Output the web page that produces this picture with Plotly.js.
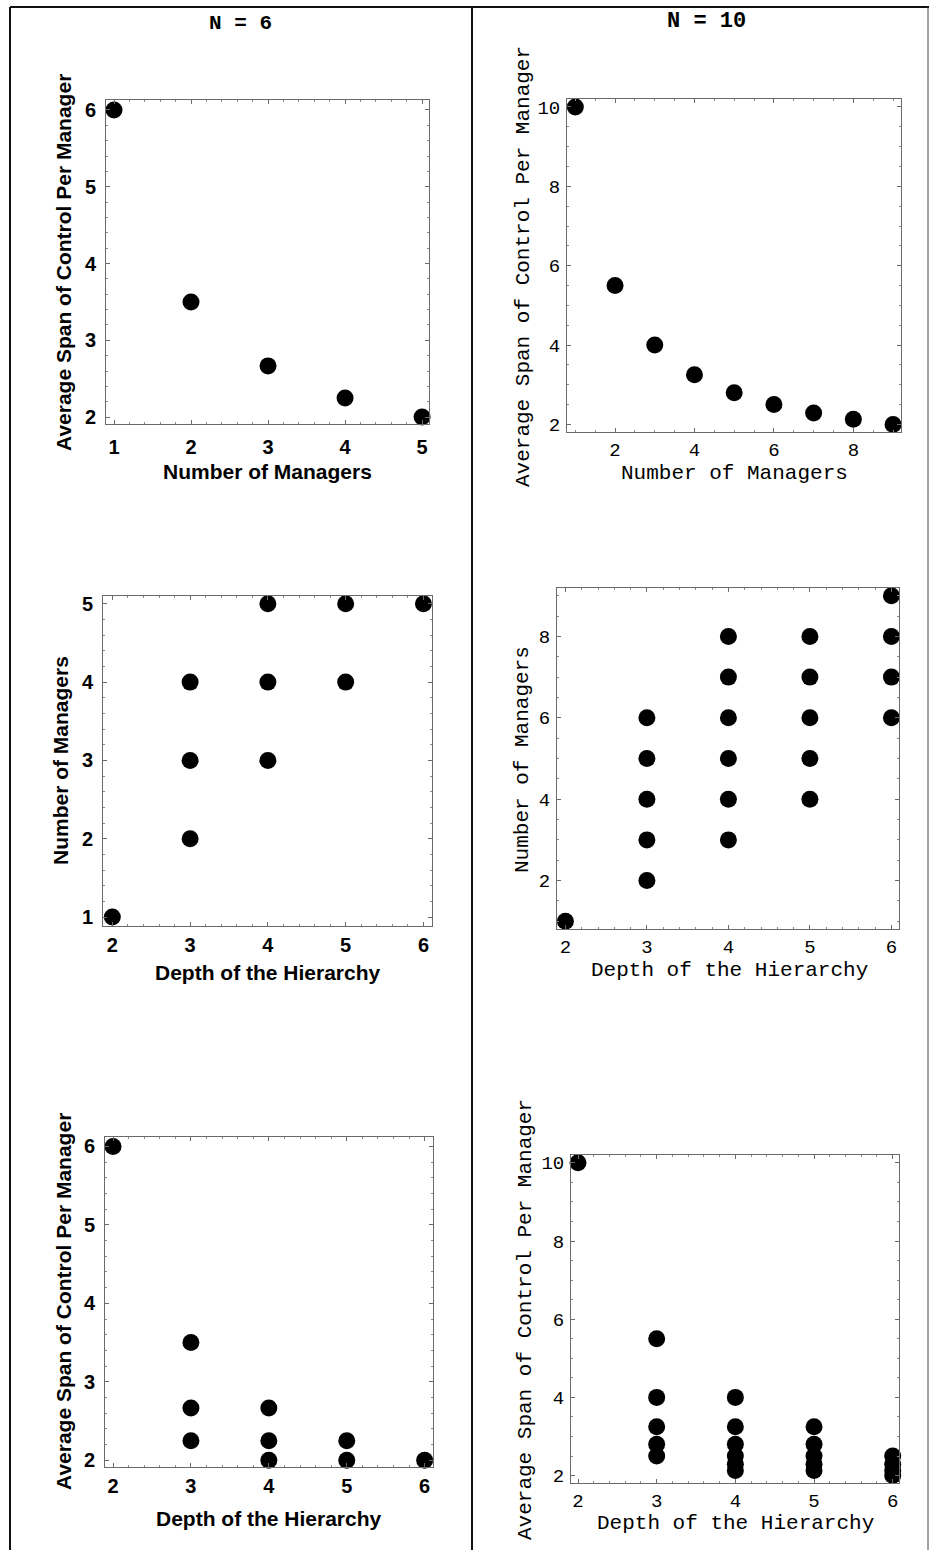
<!DOCTYPE html>
<html>
<head>
<meta charset="utf-8">
<script src="https://cdn.plot.ly/plotly-3.0.1.min.js"></script>
<style>
html,body{margin:0;padding:0;background:#fff;}
#chart{width:931px;height:1550px;}
</style>
</head>
<body>
<div id="chart"></div>
<script>
// ---------- data ----------
const panelTitles = ["N = 6", "N = 10"];

const n6Managers = [1, 2, 3, 4, 5];
const n6SpanByManagers = [6, 3.5, 2.667, 2.25, 2];

const n6Depth = [2, 3, 3, 3, 4, 4, 4, 5, 5, 6];
const n6ManagersByDepth = [1, 2, 3, 4, 3, 4, 5, 4, 5, 5];
const n6SpanByDepth = [6, 3.5, 2.667, 2.25, 2.667, 2.25, 2, 2.25, 2, 2];

const n10Managers = [1, 2, 3, 4, 5, 6, 7, 8, 9];
const n10SpanByManagers = [10, 5.5, 4, 3.25, 2.8, 2.5, 2.29, 2.13, 2];

const n10Depth = [2, 3, 3, 3, 3, 3, 4, 4, 4, 4, 4, 4, 5, 5, 5, 5, 5, 6, 6, 6, 6];
const n10ManagersByDepth = [1, 2, 3, 4, 5, 6, 3, 4, 5, 6, 7, 8, 4, 5, 6, 7, 8, 6, 7, 8, 9];
const n10SpanByDepth = [10, 5.5, 4, 3.25, 2.8, 2.5, 4, 3.25, 2.8, 2.5, 2.29, 2.13, 3.25, 2.8, 2.5, 2.29, 2.13, 2.5, 2.29, 2.13, 2];

const labelSpan = "Average Span of Control Per Manager";
const labelManagers = "Number of Managers";
const labelDepth = "Depth of the Hierarchy";

// ---------- layout helpers ----------
const W = 931, H = 1550;
const px = v => v / W;
const py = v => 1 - v / H;

const sansFont = "Liberation Sans, Arial, Helvetica, sans-serif";
const monoFont = "Liberation Mono, Courier New, Courier, monospace";

// panel frames in pixels: [left, right, top, bottom]
const panels = [
  {frame: [106, 429, 100, 424], xr: [0.896, 5.09], yr: [1.91, 6.13], xd: 1, yd: 1, xm: 0.2, ym: 0.2,
   x: n6Managers, y: n6SpanByManagers, sans: true, xt: labelManagers, yt: labelSpan,
   xtPos: [267, 472], ytPos: [63, 263], xstand: 5, ystand: 5},
  {frame: [103, 432, 596, 926], xr: [1.88, 6.11], yr: [0.885, 5.1], xd: 1, yd: 1, xm: 0.2, ym: 0.2,
   x: n6Depth, y: n6ManagersByDepth, sans: true, xt: labelDepth, yt: labelManagers,
   xtPos: [268, 972], ytPos: [60, 761], xstand: 1, ystand: 5},
  {frame: [105, 433, 1137, 1467], xr: [1.897, 6.107], yr: [1.914, 6.12], xd: 1, yd: 1, xm: 0.2, ym: 0.2,
   x: n6Depth, y: n6SpanByDepth, sans: true, xt: labelDepth, yt: labelSpan,
   xtPos: [269, 1518], ytPos: [63, 1302], xstand: 1, ystand: 5},
  {frame: [567, 901, 99, 432], xr: [0.79, 9.2], yr: [1.81, 10.2], xd: 2, yd: 2, xm: 0.5, ym: 0.5,
   x: n10Managers, y: n10SpanByManagers, sans: false, xt: labelManagers, yt: labelSpan,
   xtPos: [734, 473], ytPos: [523, 267], xstand: 0, ystand: 2},
  {frame: [557, 899, 588, 929], xr: [1.897, 6.093], yr: [0.81, 9.19], xd: 1, yd: 2, xm: 0.2, ym: 0.5,
   x: n10Depth, y: n10ManagersByDepth, sans: false, xt: labelDepth, yt: labelManagers,
   xtPos: [729, 970], ytPos: [523, 760], xstand: 0, ystand: 2},
  {frame: [571, 899, 1155, 1483], xr: [1.911, 6.08], yr: [1.81, 10.2], xd: 1, yd: 2, xm: 0.2, ym: 0.5,
   x: n10Depth, y: n10SpanByDepth, sans: false, xt: labelDepth, yt: labelSpan,
   xtPos: [735, 1523], ytPos: [525, 1320], xstand: 0, ystand: 2}
];

const data = [];
const layout = {
  width: W, height: H,
  margin: {l: 0, r: 0, t: 0, b: 0, pad: 0},
  paper_bgcolor: "#ffffff",
  plot_bgcolor: "#ffffff",
  showlegend: false,
  annotations: [],
  shapes: []
};

panels.forEach((p, i) => {
  const k = i + 1;
  const sfx = k === 1 ? "" : String(k);
  const tickFont = p.sans
    ? {family: sansFont, size: 20, color: "#000", weight: 700}
    : {family: monoFont, size: 19, color: "#000"};
  const titleFont = p.sans
    ? {family: sansFont, size: 21, color: "#000", weight: 700}
    : {family: monoFont, size: 21, color: "#000"};
  data.push({
    type: "scatter", mode: "markers",
    x: p.x, y: p.y,
    xaxis: "x" + sfx, yaxis: "y" + sfx,
    marker: {color: "#000000", size: 17},
    cliponaxis: false, hoverinfo: "skip"
  });
  const common = {
    showgrid: false, zeroline: false,
    showline: true, linecolor: "#6a6a6a", linewidth: 1, mirror: "ticks",
    ticks: "inside", ticklen: 4, tickwidth: 1, tickcolor: "#6a6a6a",
    tickfont: tickFont,
    fixedrange: true
  };
  layout["xaxis" + sfx] = Object.assign({}, common, {
    domain: [px(p.frame[0]), px(p.frame[1])],
    range: p.xr, dtick: p.xd, tick0: 0,
    minor: {dtick: p.xm, ticks: "inside", ticklen: 2, tickcolor: "#8a8a8a", showgrid: false},
    ticklabelstandoff: p.xstand,
    anchor: "y" + sfx
  });
  layout["yaxis" + sfx] = Object.assign({}, common, {
    domain: [py(p.frame[3]), py(p.frame[2])],
    range: p.yr, dtick: p.yd, tick0: 0,
    minor: {dtick: p.ym, ticks: "inside", ticklen: 2, tickcolor: "#8a8a8a", showgrid: false},
    ticklabelstandoff: p.ystand,
    anchor: "x" + sfx
  });
  layout.annotations.push({
    text: p.xt, xref: "paper", yref: "paper",
    x: px(p.xtPos[0]), y: py(p.xtPos[1]), xanchor: "center", yanchor: "middle",
    showarrow: false, font: titleFont
  });
  layout.annotations.push({
    text: p.yt, xref: "paper", yref: "paper", textangle: -90,
    x: px(p.ytPos[0]), y: py(p.ytPos[1]), xanchor: "center", yanchor: "middle",
    showarrow: false, font: titleFont
  });
});

// column titles
layout.annotations.push({
  text: "<b>" + panelTitles[0] + "</b>", xref: "paper", yref: "paper",
  x: px(240), y: py(23), xanchor: "center", yanchor: "middle", showarrow: false,
  font: {family: monoFont, size: 21, color: "#000"}
});
layout.annotations.push({
  text: "<b>" + panelTitles[1] + "</b>", xref: "paper", yref: "paper",
  x: px(706), y: py(22), xanchor: "center", yanchor: "middle", showarrow: false,
  font: {family: monoFont, size: 22, color: "#000"}
});

// outer border and divider
const bl = {color: "#111", width: 2};
layout.shapes.push({type: "line", xref: "paper", yref: "paper", x0: px(10), x1: px(929), y0: py(7), y1: py(7), line: bl});
layout.shapes.push({type: "line", xref: "paper", yref: "paper", x0: px(10), x1: px(10), y0: py(7), y1: py(1550), line: bl});
layout.shapes.push({type: "line", xref: "paper", yref: "paper", x0: px(472), x1: px(472), y0: py(7), y1: py(1550), line: bl});
layout.shapes.push({type: "line", xref: "paper", yref: "paper", x0: px(928), x1: px(928), y0: py(7), y1: py(1550), line: {color: "#444", width: 1}});

Plotly.newPlot("chart", data, layout, {staticPlot: true, displayModeBar: false});
</script>
</body>
</html>
